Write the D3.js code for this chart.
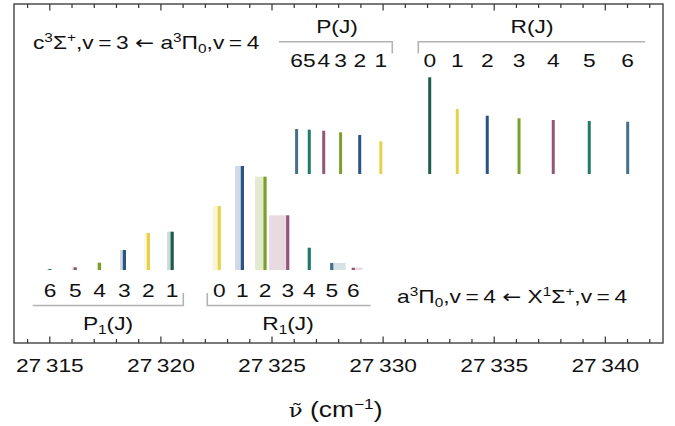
<!DOCTYPE html>
<html><head><meta charset="utf-8">
<script src="https://cdn.jsdelivr.net/npm/d3@7"></script>
<style>
html,body{margin:0;padding:0;background:#fff;}
svg text{font-family:"Liberation Sans",Arial,sans-serif;fill:#111;white-space:pre;}
</style></head>
<body><div id="chart"></div>
<script>
// ---------- data ----------
const axisTicks = [27315, 27320, 27325, 27330, 27335, 27340];
const axisTickLabels = ["27\u2009315", "27\u2009320", "27\u2009325", "27\u2009330", "27\u2009335", "27\u2009340"];

// upper band: c3Σ+ v=3 <- a3Π0 v=4
const upPJ = [6, 5, 4, 3, 2, 1];
const upPNu = [27326.13, 27326.70, 27327.35, 27328.11, 27328.97, 27329.92];
const upPInt = [45, 44.3, 43.3, 41.7, 39, 32.7];
const upRJ = [0, 1, 2, 3, 4, 5, 6];
const upRNu = [27332.12, 27333.36, 27334.71, 27336.14, 27337.68, 27339.30, 27341.03];
const upRInt = [96.7, 65, 58.3, 55.7, 54, 53, 52.3];

// lower band: a3Π0 v=4 <- X1Σ+ v=4
const loPJ = [6, 5, 4, 3, 2, 1];
const loPNu = [27315.03, 27316.17, 27317.26, 27318.38, 27319.46, 27320.53];
const loPEdge = [27314.88, 27316.01, 27317.13, 27318.18, 27319.28, 27320.30];
const loPInt = [1, 2.7, 7.3, 20, 37, 38.3];
const loRJ = [0, 1, 2, 3, 4, 5, 6];
const loRNu = [27322.65, 27323.69, 27324.71, 27325.73, 27326.70, 27327.71, 27328.68];
const loREdge = [27322.35, 27323.36, 27324.26, 27324.89, 27326.70, 27328.34, 27329.10];
const loRInt = [64, 104, 93.3, 54.7, 22.3, 7, 2.3];

const palette = ["#1d5c4b", "#e6d14a", "#2b5486", "#7aa02b", "#935675", "#1f7a6c", "#44708a", "#935675"];

// ---------- layout ----------
const W = 675, H = 426;
const frame = {left: 14, right: 663, top: 4, bottom: 343};
const SX = 1.23;      // horizontal stretch of the original artwork text
const fs = 18.5;
const svg = d3.select("#chart").append("svg").attr("width", W).attr("height", H);

const x = d3.scaleLinear().domain([27315, 27340]).range([49.3, 604.8]);
const yUp = d3.scaleLinear().domain([0, 100]).range([174, 74]);
const yLo = d3.scaleLinear().domain([0, 100]).range([270, 170]);
const bracketColor = "#b3b3b3";

// frame
svg.append("rect").attr("x", frame.left).attr("y", frame.top)
  .attr("width", frame.right - frame.left).attr("height", frame.bottom - frame.top)
  .attr("fill", "none").attr("stroke", "#333").attr("stroke-width", 1.3);

const tickVals = d3.range(27314, 27343);
const isMajor = v => v % 5 === 0;
const gB = svg.append("g").attr("transform", `translate(0,${frame.bottom})`)
  .call(d3.axisBottom(x).tickValues(tickVals).tickSize(0).tickFormat(""));
gB.select(".domain").remove();
gB.selectAll(".tick line").attr("y2", v => isMajor(v) ? -6.5 : -4).attr("stroke", "#333").attr("stroke-width", 1.2);
const gT = svg.append("g").attr("transform", `translate(0,${frame.top})`)
  .call(d3.axisTop(x).tickValues(tickVals).tickSize(0).tickFormat(""));
gT.select(".domain").remove();
gT.selectAll(".tick line").attr("y2", v => isMajor(v) ? 6.5 : 4).attr("stroke", "#333").attr("stroke-width", 1.2);

// tick labels
const gL = svg.append("g").attr("transform", "translate(0,372.3)")
  .call(d3.axisBottom(x).tickValues(axisTicks).tickSize(0).tickPadding(0)
    .tickFormat((d, i) => axisTickLabels[i]));
gL.select(".domain").remove();
gL.selectAll("text").attr("dy", null).attr("y", 0).attr("transform", `scale(${SX},1)`)
  .style("font-size", fs + "px").style("font-family", "'Liberation Sans',Arial,sans-serif").attr("fill", "#111");

// stretched text helper
function stext(X, Y, anchor) {
  return svg.append("text").attr("transform", `translate(${X},${Y}) scale(${SX},1)`)
    .attr("text-anchor", anchor || "middle").style("font-size", fs + "px");
}

// axis title: ν̃ (cm⁻¹)
const tt = stext(288.5, 417, "start").style("font-size", "21.5px");
tt.append("tspan").style("font-family", "'DejaVu Serif',serif").style("font-size", "19px").text("\u03bd\u0303");
tt.append("tspan").text(" (cm");
tt.append("tspan").attr("dy", -8.5).style("font-size", "14px").text("\u22121");
tt.append("tspan").attr("dy", 8.5).text(")");

// ---------- upper band ----------
const upData = upPJ.map((J, i) => ({J, nu: upPNu[i], v: upPInt[i], c: palette[J]}))
  .concat(upRJ.map((J, i) => ({J, nu: upRNu[i], v: upRInt[i], c: palette[J]})));
svg.append("g").selectAll("line").data(upData).join("line")
  .attr("x1", d => x(d.nu)).attr("x2", d => x(d.nu))
  .attr("y1", yUp(0)).attr("y2", d => yUp(d.v))
  .attr("stroke", d => d.c).attr("stroke-width", 3);
upData.forEach(d => stext(x(d.nu), 66.7).text(d.J));

// ---------- lower band ----------
const loData = loPJ.map((J, i) => ({J, nu: loPNu[i], e: loPEdge[i], v: loPInt[i], c: palette[J - 1]}))
  .concat(loRJ.map((J, i) => ({J, nu: loRNu[i], e: loREdge[i], v: loRInt[i], c: palette[J + 1]})));
const gLo = svg.append("g");
gLo.selectAll("rect").data(loData).join("rect")
  .attr("x", d => x(Math.min(d.nu, d.e))).attr("width", d => Math.abs(x(d.nu) - x(d.e)))
  .attr("y", d => yLo(d.v)).attr("height", d => yLo(0) - yLo(d.v))
  .attr("fill", d => d.c).attr("fill-opacity", 0.22);
gLo.selectAll("line").data(loData).join("line")
  .attr("x1", d => x(d.nu)).attr("x2", d => x(d.nu))
  .attr("y1", yLo(0)).attr("y2", d => yLo(d.v))
  .attr("stroke", d => d.c).attr("stroke-width", 3.2);
loData.forEach(d => stext(x(d.nu), 296.7).text(d.J));

// ---------- brackets ----------
function bracket(pts) {
  svg.append("path").attr("d", d3.line()(pts)).attr("fill", "none")
    .attr("stroke", bracketColor).attr("stroke-width", 1.6);
}
bracket([[279, 41.7], [392.3, 41.7], [392.3, 53.5]]);
bracket([[418.3, 53.5], [418.3, 41.7], [645, 41.7]]);
bracket([[32.7, 305.5], [183.3, 305.5], [183.3, 293]]);
bracket([[207.3, 293], [207.3, 305.5], [370.7, 305.5]]);

function label(X, Y, parts, anchor) {
  const t = stext(X, Y, anchor);
  parts.forEach(p => {
    const s = t.append("tspan").text(p[0]);
    if (p[1] === "sup") s.attr("dy", -7).style("font-size", "12.5px");
    else if (p[1] === "sub") s.attr("dy", 4).style("font-size", "12.5px");
    else if (p[1] === "back") s.attr("dy", p[2]);
    else if (p[1] === "arrow") s.attr("dy", p[2]).style("font-family", "'DejaVu Sans',sans-serif");
  });
  return t;
}
label(337, 33, [["P(J)"]]);
label(532, 33, [["R(J)"]]);
label(108, 330, [["P"], ["1", "sub"], ["(J)", "back", -4]]);
label(288, 330, [["R"], ["1", "sub"], ["(J)", "back", -4]]);

label(33, 48.5, [["c"], ["3", "sup"], ["\u03a3", "back", 7], ["+", "sup"], [",v\u2009=\u20093 ", "back", 7],
  ["\u2190", "arrow", 0], [" a"], ["3", "sup"], ["\u03a0", "back", 7], ["0", "sub"], [",v\u2009=\u20094", "back", -4]], "start");
label(397, 303, [["a"], ["3", "sup"], ["\u03a0", "back", 7], ["0", "sub"], [",v\u2009=\u20094 ", "back", -4],
  ["\u2190", "arrow", 0], [" X"], ["1", "sup"], ["\u03a3", "back", 7], ["+", "sup"], [",v\u2009=\u20094", "back", 7]], "start");
</script>
</body></html>
